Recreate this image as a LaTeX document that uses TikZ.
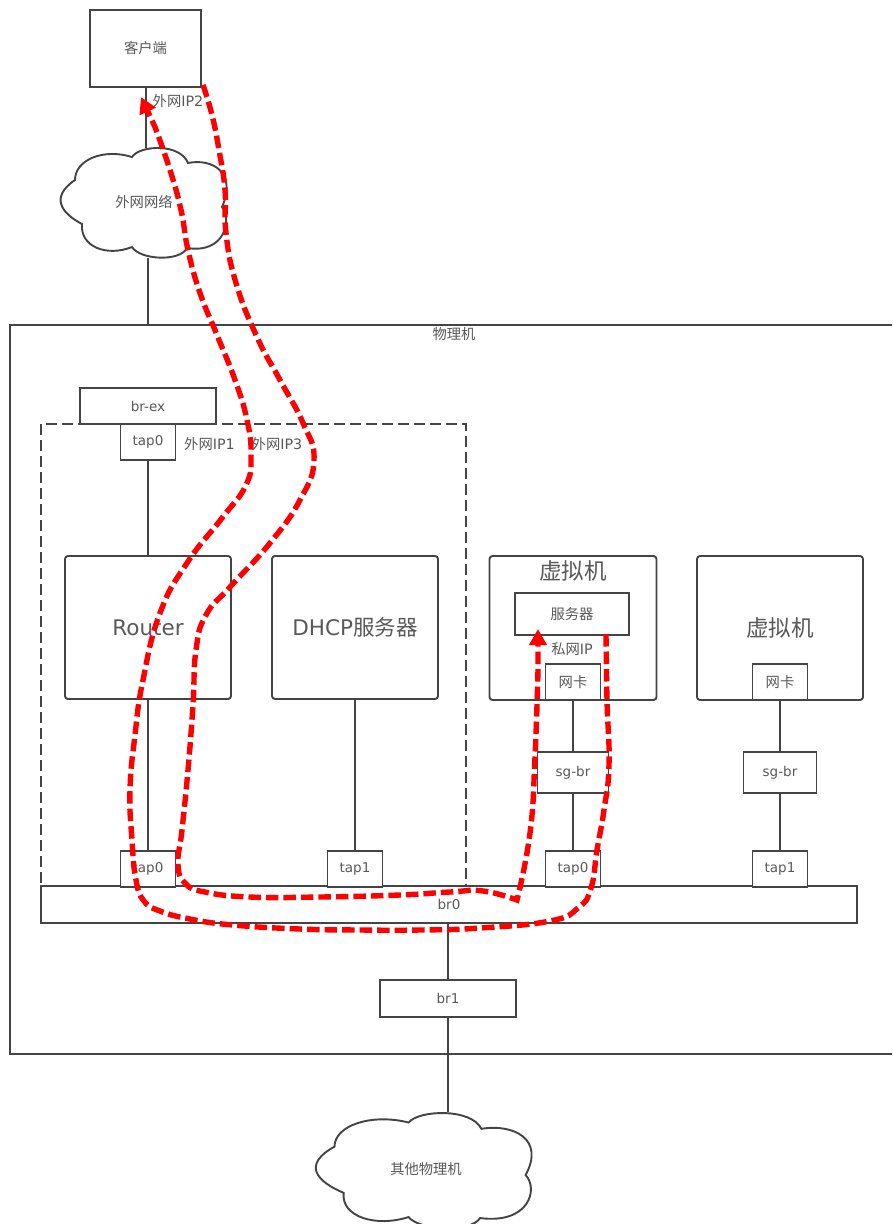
\documentclass[tikz,border=0pt]{standalone}
\usepackage{fontspec}
\setmainfont{DejaVu Sans}
\newfontfamily\cjk{Noto Sans CJK SC}
\usepackage{xcolor}
\usetikzlibrary{arrows.meta}
\definecolor{ink}{HTML}{444444}
\definecolor{txt}{HTML}{595959}
\tikzset{
	cloudshape/.pic={
		\draw[ed, fill=white] (15,33) .. controls (15,13) and (43,1) .. (72,10)
			.. controls (80,-2) and (120,-4) .. (128,16)
			.. controls (153,11) and (177,26) .. (162,60)
			.. controls (172,73) and (165,107) .. (127,101)
			.. controls (120,115) and (80,113) .. (72,100)
			.. controls (47,110) and (20,100) .. (22,77)
			.. controls (1,66) and (-10,50) .. (15,33) -- cycle;
	}
}
\begin{document}
\begin{tikzpicture}[
	x=1pt, y=-1pt,
	ed/.style={-, ink, line width=1.9pt},
	bx/.style={draw=ink, line width=1.9pt, fill=white, inner sep=0pt, outer sep=0pt,
		text=txt, font=\fontsize{13.5}{16}\selectfont},
	rbx/.style={bx, rounded corners=3pt, font=\fontsize{21.5}{26}\selectfont},
	tapbx/.style={bx, minimum width=55pt, minimum height=36pt},
	sgbx/.style={bx, minimum height=41pt},
	lb/.style={text=txt, inner sep=0pt, font=\fontsize{14.3}{17}\selectfont},
	trail/.style={-{Triangle[length=16pt,width=17pt]}, red, line width=5.4pt,
		dash pattern=on 12.5pt off 5pt}
	]
	\clip (0,0) rectangle (892,1224);
	\fill[white] (0,0) rectangle (892,1224);
	\node[bx, minimum width=890pt, minimum height=729pt] (phys) at (455,689.5) {};
	\node[draw=ink, line width=1.9pt, dash pattern=on 11pt off 5pt, inner sep=0pt, outer sep=0pt,
		minimum width=425pt, minimum height=462pt] (ns) at (253.5,655) {};
	\node[lb] (physL) at (454,334) {\cjk 物理机};

	\pic at (60,147) {cloudshape};
	\pic[xscale=1.3, yscale=1.05] at (315,1112) {cloudshape};
	\coordinate (wanT) at (146,148);
	\coordinate (wanB) at (148,258);
	\coordinate (otherT) at (448,1112);
	\node[lb] (wan) at (144,202) {\cjk 外网网络};
	\node[lb] (other) at (426,1169) {\cjk 其他物理机};

	\node[bx, minimum width=111pt, minimum height=77pt, font=\fontsize{14.3}{17}\selectfont\cjk] (client) at (145.5,48.5) {客户端};
	\node[bx, minimum width=136pt, minimum height=36pt] (brex) at (148,406) {br-ex};
	\node[tapbx] (tapT) at (148,442) {tap0};
	\node[rbx, minimum width=166pt, minimum height=143pt] (router) at (148,627.5) {Router};
	\node[rbx, minimum width=166pt, minimum height=143pt] (dhcp) at (355,627.5) {DHCP{\cjk 服务器}};
	\node[rbx, minimum width=167pt, minimum height=144pt] (vmA) at (573,628) {};
	\node[rbx, minimum width=166pt, minimum height=144pt] (vmB) at (780,628) {};
	\node[lb, font=\fontsize{22.5}{26}\selectfont\cjk] (vmAL) at (573,571) {虚拟机};
	\node[lb, font=\fontsize{22.5}{26}\selectfont\cjk] (vmBL) at (780,628) {虚拟机};
	\node[bx, minimum width=114pt, minimum height=42pt, font=\fontsize{14.3}{17}\selectfont\cjk] (srv) at (572,614) {服务器};
	\node[tapbx, font=\fontsize{14.3}{17}\selectfont\cjk] (nicA) at (573,682) {网卡};
	\node[tapbx, font=\fontsize{14.3}{17}\selectfont\cjk] (nicB) at (780,682) {网卡};
	\node[sgbx, minimum width=71pt] (sgA) at (573,772.5) {sg-br};
	\node[sgbx, minimum width=73pt] (sgB) at (780,772.5) {sg-br};
	\node[bx, minimum width=816pt, minimum height=37pt] (brz) at (449,904.5) {br0};
	\node[tapbx] (tapA) at (148,869) {tap0};
	\node[tapbx] (tapC) at (355,869) {tap1};
	\node[tapbx] (tapD) at (573,869) {tap0};
	\node[tapbx] (tapE) at (780,869) {tap1};
	\node[bx, minimum width=136pt, minimum height=37pt] (brone) at (448,998.5) {br1};

	\node[lb] (ipTwo) at (178,101) {{\cjk 外网}IP2};
	\node[lb] (ipOne) at (209.5,444) {{\cjk 外网}IP1};
	\node[lb] (ipThree) at (277,444) {{\cjk 外网}IP3};
	\node[lb] (ipPriv) at (572,649) {{\cjk 私网}IP};

	\draw[ed] (client.south -| wanT) -- (wanT);
	\draw[ed] (wanB) -- (wanB |- phys.north);
	\draw[ed] (tapT) -- (router);
	\draw[ed] (router) -- (tapA);
	\draw[ed] (dhcp) -- (tapC);
	\draw[ed] (nicA) -- (sgA); \draw[ed] (sgA) -- (tapD);
	\draw[ed] (nicB) -- (sgB); \draw[ed] (sgB) -- (tapE);
	\draw[ed] (brone.north) -- (brone.north |- brz.south);
	\draw[ed] (brone.south) -- (otherT);

	\coordinate (srvOut) at (606,634);
	\coordinate (clientIn) at (141,97);
	\coordinate (clientOut) at (203,85);
	\coordinate (srvIn) at (538,629);
	\coordinate (turn) at (517,900);
	\draw[trail] plot[smooth, tension=.8] coordinates {(srvOut) (607,700) (609,765) (604,810) (597,850) (591,888)
		(578,908) (550,921) (480,928) (420,930) (360,930) (300,929) (233,925) (190,919) (160,911) (144,901) (136,880) (132,840)
		(130,790) (135,735) (143,680) (160,613) (187,563) (222,518) (246,485) (251,455) (247,420) (235,380) (217,335)
		(200,293) (188,250) (181,210) (170,170) (155,127)} -- (clientIn);
	\draw[trail] plot[smooth, tension=.8] coordinates {(clientOut) (212,115) (219,150) (225,190) (226,233) (236,283) (257,337)
		(280,380) (303,423) (314,460) (300,500) (270,543) (230,587) (206,615) (196,650) (193,705)
		(188,770) (182,830) (178,865) (186,884) (205,892) (250,897) (320,897) (400,895) (450,892) (483,891) (turn)}
		-- plot[smooth, tension=.8] coordinates {(turn) (530,833) (535,757) (538,670)} -- (srvIn);
\end{tikzpicture}
\end{document}
